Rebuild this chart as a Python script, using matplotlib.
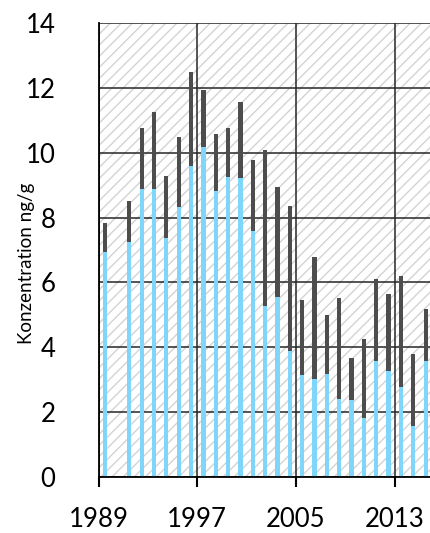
import matplotlib
matplotlib.use('Agg')
import matplotlib.pyplot as plt
from matplotlib.patches import Rectangle
import numpy as np

# annual values (ng/g): lower part and total height of each bar
years = [1989, 1991, 1992, 1993, 1994, 1995, 1996, 1997, 1998, 1999,
         2000, 2001, 2002, 2003, 2004, 2005, 2006, 2007, 2008, 2009,
         2010, 2011, 2012, 2013, 2014, 2015]
lower = [6.95, 7.25, 8.88, 8.88, 7.38, 8.33, 9.60, 10.18, 8.82, 9.26,
         9.23, 7.59, 5.28, 5.55, 3.89, 3.15, 3.02, 3.17, 2.41, 2.36,
         1.81, 3.59, 3.28, 2.78, 1.58, 3.59]
total = [7.84, 8.50, 10.75, 11.25, 9.28, 10.48, 12.48, 11.93, 10.57, 10.77,
         11.56, 9.78, 10.07, 8.95, 8.36, 5.46, 6.78, 5.00, 5.51, 3.66,
         4.25, 6.10, 5.64, 6.19, 3.78, 5.18]
x_ticks = [1989, 1997, 2005, 2013, 2021]
y_ticks = [0, 2, 4, 6, 8, 10, 12, 14]

blue = '#7fd6fb'
dark = '#4d4d4d'

plt.rcParams['font.family'] = ['Lato', 'DejaVu Sans']

fig = plt.figure(figsize=(4.3, 5.33), dpi=100)
# the plot area runs past the right edge of the figure
ax = fig.add_axes([98.5 / 430, 56 / 533, 395 / 430, 454 / 533])

# hatched plot background
bg = Rectangle((0, 0), 1, 1, transform=ax.transAxes, facecolor='white',
               edgecolor='#d3d3d3', hatch='///', linewidth=0, zorder=0)
ax.add_patch(bg)

xs = np.array(years) + 0.5
upper = np.array(total) - np.array(lower)
ax.bar(xs, lower, width=0.34, color=blue, zorder=3)
ax.bar(xs, upper, bottom=lower, width=0.34, color=dark, zorder=3)

ax.set_xlim(1989, 2021)
ax.set_ylim(0, 14)
ax.set_xticks(x_ticks)
ax.set_yticks(y_ticks)
ax.grid(True, color='#262626', linewidth=1.1, zorder=1)
ax.set_axisbelow(True)

for s in ['top', 'right']:
    ax.spines[s].set_visible(False)
for s in ['left', 'bottom']:
    ax.spines[s].set_color('black')
    ax.spines[s].set_linewidth(1.3)
    ax.spines[s].set_zorder(4)

ax.tick_params(axis='x', direction='out', length=7.5, width=1.5,
               labelsize=18.5, pad=14, colors='black')
ax.tick_params(axis='y', length=0, labelsize=18.5, pad=31, colors='black')
ax.set_ylabel('Konzentration ng/g', fontsize=13.5)
ax.yaxis.set_label_coords(-0.160, 0.471)

fig.savefig('out.png', dpi=100)
